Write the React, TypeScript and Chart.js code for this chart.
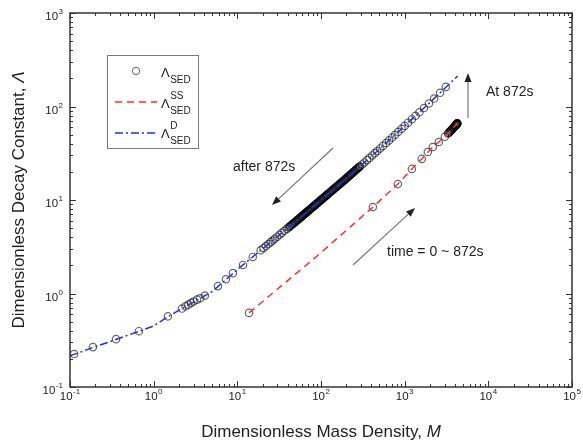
import React, { useEffect, useRef } from 'react';
import { Chart, registerables } from 'chart.js';
Chart.register(...registerables);

// ---------------- data ----------------
const xTickExps = [-1, 0, 1, 2, 3, 4, 5];
const yTickExps = [-1, 0, 1, 2, 3];

// circles, after 872 s (on the D curve)
const afterM = [
  0.112, 0.188, 0.355, 0.667, 1.48, 2.18, 2.4, 2.6, 2.8, 3.0, 3.3, 3.6, 4.1, 5.87, 7.3, 8.85, 11.7, 15.3,
  19, 20.5, 22, 23.5, 25, 26.5, 28, 30, 32, 34, 36.5, 39, 41,
  42, 44, 46, 48, 50, 52, 54, 56, 58, 60, 62, 64, 66, 68, 70, 72, 75, 78, 81, 84, 87, 90, 93, 96,
  100, 104, 108, 112, 116, 120, 125, 130, 135, 140, 146, 152, 158, 164, 170, 177, 184, 191, 198,
  206, 214, 222, 230, 239, 248, 258, 268, 280, 292,
  310, 330, 355, 380, 410, 440, 470, 510, 550, 600, 650, 710, 770, 840, 920, 1000, 1100, 1220, 1350,
  1500, 1700, 1950, 2250, 2650, 3100,
];
const afterL = [
  0.225, 0.267, 0.325, 0.395, 0.57, 0.69, 0.73, 0.76, 0.79, 0.82, 0.86, 0.89, 0.95, 1.2, 1.42, 1.65, 2.02, 2.46,
  2.9, 3.06, 3.22, 3.38, 3.54, 3.69, 3.85, 4.05, 4.25, 4.45, 4.68, 4.91, 5.1,
  5.18, 5.37, 5.55, 5.72, 5.9, 6.08, 6.25, 6.43, 6.6, 6.77, 6.95, 7.12, 7.29, 7.45, 7.62, 7.78, 8.03, 8.27, 8.51, 8.75, 8.99, 9.22, 9.46, 9.69,
  10.0, 10.3, 10.61, 10.9, 11.2, 11.49, 11.86, 12.22, 12.58, 12.93, 13.35, 13.77, 14.18, 14.59, 15.0, 15.47, 15.93, 16.39, 16.85,
  17.4, 17.93, 18.46, 18.98, 19.56, 20.15, 20.78, 21.42, 22.2, 22.91,
  24.0, 25.2, 26.7, 28.2, 29.95, 31.7, 33.4, 35.6, 37.9, 40.7, 43.4, 46.7, 49.9, 53.7, 57.8, 62, 67.1, 73.1, 79.5,
  86.7, 96.2, 107.7, 121.7, 140.1, 162,
];
// extra circles in the densely packed stretch (M ≈ 42 … 290)
const afterDenseM = [
  43, 45, 47, 49, 51, 53, 55, 57, 59, 61, 63, 65, 67, 69, 71, 73.5, 76.5, 79.5, 82.5, 85.5, 88.5, 91.5, 94.5, 98,
  102, 106, 110, 114, 118, 122.5, 127.5, 132.5, 137.5, 143, 149, 155, 161, 167, 173.5, 180.5, 187.5, 194.5,
  202, 210, 218, 226, 234.5, 243.5, 253, 263, 274, 286,
];
const afterDenseL = [
  5.27, 5.46, 5.635, 5.81, 5.99, 6.165, 6.34, 6.515, 6.685, 6.86, 7.035, 7.205, 7.37, 7.535, 7.7, 7.905, 8.15, 8.39, 8.63, 8.87, 9.105, 9.34, 9.575, 9.845,
  10.15, 10.455, 10.755, 11.05, 11.345, 11.675, 12.04, 12.4, 12.755, 13.14, 13.56, 13.975, 14.385, 14.795, 15.235, 15.7, 16.16, 16.62,
  17.125, 17.665, 18.195, 18.72, 19.27, 19.855, 20.465, 21.1, 21.81, 22.555,
];

// circles, time = 0 ~ 872 s (on the SS curve)
const beforeM = [
  13.8, 417, 830, 1220, 1600, 1890, 2170, 2560, 3020,
  3300, 3350, 3450, 3500, 3550, 3600, 3650, 3700, 3750, 3800, 3850, 3900, 3950, 4000, 4030, 4070,
  4100, 4120, 4150, 4180, 4200, 4215, 4230, 4240, 4250, 4260,
];
const beforeL = [
  0.62, 8.4, 14.8, 21.5, 27.5, 32.6, 36.9, 41.7, 47.5,
  51.5, 52.2, 53.5, 54.2, 55, 55.7, 56.5, 57.2, 58, 58.7, 59.5, 60.2, 61, 61.7, 62.3, 62.9,
  63.5, 63.9, 64.3, 64.6, 65, 65.2, 65.5, 65.8, 66, 66.2,
];

// Λ_SED^D curve
const fitDM = [0.1, 0.2, 0.3, 0.5, 0.7, 1, 1.5, 2, 3, 5, 7, 10, 14, 20, 30, 50, 100, 200, 500, 1000, 2000, 4300];
const fitDL = [0.215, 0.27, 0.305, 0.36, 0.4, 0.45, 0.57, 0.66, 0.81, 1.05, 1.36, 1.8, 2.31, 3.0, 4.05, 5.9, 10, 17, 35, 62, 110, 212];

// Λ_SED^SS curve
const fitSSM = [13.8, 30, 84.5, 200, 417, 830, 1220, 1600, 2170, 2560, 3020, 3500, 4260];
const fitSSL = [0.62, 1.11, 2.4, 4.72, 8.4, 14.8, 21.5, 27.5, 36.9, 41.7, 47.5, 54, 66.2];

const toPts = (xs: number[], ys: number[]) => xs.map((x, i) => ({ x, y: ys[i] }));

// ---------------- drawing helpers ----------------
const FONT = '"Liberation Sans", Arial, Helvetica, sans-serif';
const TXT = '#222';
const CIRCLE = 'rgba(0,0,0,0.6)';
const RED = '#ff2b2b';
const BLUE = '#1f2fe6';
const RED_DASH = [7, 5];
const BLUE_DASH = [8, 3, 2, 3];

function drawPow(ctx: CanvasRenderingContext2D, x: number, baseline: number, exp: number, align: 'center' | 'right') {
  ctx.font = `11.5px ${FONT}`;
  const w10 = ctx.measureText('10').width;
  ctx.font = `8px ${FONT}`;
  const es = String(exp);
  const we = ctx.measureText(es).width;
  const total = w10 + we + 0.5;
  const sx = align === 'center' ? x - total / 2 : x - total;
  ctx.textAlign = 'left';
  ctx.textBaseline = 'alphabetic';
  ctx.font = `11.5px ${FONT}`;
  ctx.fillText('10', sx, baseline);
  ctx.font = `8px ${FONT}`;
  ctx.fillText(es, sx + w10 + 0.5, baseline - 6);
}

function drawLambda(ctx: CanvasRenderingContext2D, x: number, baseline: number, sup: string) {
  ctx.textAlign = 'left';
  ctx.textBaseline = 'alphabetic';
  ctx.font = `13px ${FONT}`;
  ctx.fillText('Λ', x, baseline);
  const w = ctx.measureText('Λ').width;
  ctx.font = `10px ${FONT}`;
  ctx.fillText('SED', x + w + 0.5, baseline + 6);
  if (sup) ctx.fillText(sup, x + w + 0.5, baseline - 9);
}

function arrow(ctx: CanvasRenderingContext2D, x1: number, y1: number, x2: number, y2: number) {
  const a = Math.atan2(y2 - y1, x2 - x1);
  const hl = 9, hw = 3.5;
  const bx = x2 - hl * Math.cos(a), by = y2 - hl * Math.sin(a);
  ctx.strokeStyle = '#777';
  ctx.lineWidth = 1.2;
  ctx.setLineDash([]);
  ctx.beginPath();
  ctx.moveTo(x1, y1);
  ctx.lineTo(bx, by);
  ctx.stroke();
  ctx.fillStyle = '#222';
  ctx.beginPath();
  ctx.moveTo(x2, y2);
  ctx.lineTo(bx + hw * Math.sin(a), by - hw * Math.cos(a));
  ctx.lineTo(bx - hw * Math.sin(a), by + hw * Math.cos(a));
  ctx.closePath();
  ctx.fill();
}

const decor = {
  id: 'decor',
  afterDatasetsDraw(chart: any) {
    const ctx: CanvasRenderingContext2D = chart.ctx;
    const xs = chart.scales.x, ys = chart.scales.y;
    const { left, right, top, bottom } = chart.chartArea;
    ctx.save();
    ctx.setLineDash([]);

    // ticks (inward, all four sides)
    ctx.strokeStyle = '#333';
    ctx.lineWidth = 1;
    ctx.beginPath();
    for (let i = 0; i < xTickExps.length; i++) {
      const e = xTickExps[i];
      const ks = i === xTickExps.length - 1 ? [1] : [1, 2, 3, 4, 5, 6, 7, 8, 9];
      for (const k of ks) {
        const px = Math.round(xs.getPixelForValue(k * Math.pow(10, e))) + 0.5;
        const len = k === 1 ? 6 : 3;
        ctx.moveTo(px, bottom); ctx.lineTo(px, bottom - len);
        ctx.moveTo(px, top); ctx.lineTo(px, top + len);
      }
    }
    for (let i = 0; i < yTickExps.length; i++) {
      const e = yTickExps[i];
      const ks = i === yTickExps.length - 1 ? [1] : [1, 2, 3, 4, 5, 6, 7, 8, 9];
      for (const k of ks) {
        const py = Math.round(ys.getPixelForValue(k * Math.pow(10, e))) + 0.5;
        const len = k === 1 ? 6 : 3;
        ctx.moveTo(left, py); ctx.lineTo(left + len, py);
        ctx.moveTo(right, py); ctx.lineTo(right - len, py);
      }
    }
    ctx.stroke();

    // frame
    ctx.strokeStyle = '#333';
    ctx.lineWidth = 1.5;
    ctx.strokeRect(left, top, right - left, bottom - top);

    // tick labels
    ctx.fillStyle = TXT;
    for (const e of xTickExps) drawPow(ctx, xs.getPixelForValue(Math.pow(10, e)), bottom + 13, e, 'center');
    for (const e of yTickExps) drawPow(ctx, left - 7, ys.getPixelForValue(Math.pow(10, e)) + 7, e, 'right');

    // x title
    ctx.textBaseline = 'alphabetic';
    ctx.textAlign = 'left';
    ctx.font = `17px ${FONT}`;
    const xt = 'Dimensionless Mass Density, ';
    const xw1 = ctx.measureText(xt).width;
    ctx.font = `italic 17px ${FONT}`;
    const xw2 = ctx.measureText('M').width;
    const xcx = (left + right) / 2;
    let sx = xcx - (xw1 + xw2) / 2;
    ctx.font = `17px ${FONT}`;
    ctx.fillText(xt, sx, 437);
    ctx.font = `italic 17px ${FONT}`;
    ctx.fillText('M', sx + xw1, 437);

    // y title
    ctx.save();
    ctx.translate(24, (top + bottom) / 2);
    ctx.rotate(-Math.PI / 2);
    ctx.font = `17px ${FONT}`;
    const yt = 'Dimensionless Decay Constant, ';
    const yw1 = ctx.measureText(yt).width;
    ctx.font = `italic 17px ${FONT}`;
    const yw2 = ctx.measureText('Λ').width;
    sx = -(yw1 + yw2) / 2;
    ctx.font = `17px ${FONT}`;
    ctx.fillText(yt, sx, 0);
    ctx.font = `italic 17px ${FONT}`;
    ctx.fillText('Λ', sx + yw1, 0);
    ctx.restore();

    // legend
    ctx.strokeStyle = '#777';
    ctx.lineWidth = 1;
    ctx.strokeRect(107.5, 55.5, 91, 93);
    ctx.strokeStyle = CIRCLE;
    ctx.beginPath();
    ctx.arc(136, 71, 3.7, 0, Math.PI * 2);
    ctx.stroke();
    ctx.lineWidth = 1.5;
    ctx.strokeStyle = RED;
    ctx.setLineDash(RED_DASH);
    ctx.beginPath(); ctx.moveTo(115, 102); ctx.lineTo(157, 102); ctx.stroke();
    ctx.strokeStyle = BLUE;
    ctx.setLineDash(BLUE_DASH);
    ctx.beginPath(); ctx.moveTo(115, 133); ctx.lineTo(157, 133); ctx.stroke();
    ctx.setLineDash([]);
    ctx.fillStyle = TXT;
    drawLambda(ctx, 161, 77, '');
    drawLambda(ctx, 161, 108, 'SS');
    drawLambda(ctx, 161, 138, 'D');

    // annotations
    arrow(ctx, 333, 148, 272, 205);
    arrow(ctx, 353, 265, 415, 208);
    arrow(ctx, 468, 118, 468, 73);
    ctx.fillStyle = TXT;
    ctx.font = `14px ${FONT}`;
    ctx.textAlign = 'left';
    ctx.textBaseline = 'middle';
    ctx.fillText('after 872s', 233, 167);
    ctx.fillText('time = 0 ~ 872s', 387, 252);
    ctx.fillText('At 872s', 486, 92);

    ctx.restore();
  },
};

export default function App() {
  const ref = useRef<HTMLCanvasElement>(null);
  useEffect(() => {
    document.body.style.margin = '0';
    const canvas = ref.current!;
    const circleStyle = {
      pointRadius: 3.7,
      pointBorderColor: CIRCLE,
      pointBackgroundColor: 'rgba(0,0,0,0)',
      pointBorderWidth: 1.2,
      showLine: false,
      order: 2,
    };
    const chart = new Chart(canvas, {
      type: 'scatter',
      data: {
        datasets: [
          {
            label: 'Λ_SED^D',
            data: toPts(fitDM, fitDL),
            showLine: true,
            borderColor: BLUE,
            borderWidth: 1.5,
            borderDash: BLUE_DASH,
            pointRadius: 0,
            fill: false,
            order: 0,
          } as any,
          {
            label: 'Λ_SED^SS',
            data: toPts(fitSSM, fitSSL),
            showLine: true,
            borderColor: RED,
            borderWidth: 1.5,
            borderDash: RED_DASH,
            pointRadius: 0,
            fill: false,
            order: 1,
          } as any,
          {
            label: 'Λ_SED (after 872s)',
            data: [...toPts(afterM, afterL), ...toPts(afterDenseM, afterDenseL)],
            ...circleStyle,
          } as any,
          { label: 'Λ_SED (0 ~ 872s)', data: toPts(beforeM, beforeL), ...circleStyle } as any,
        ],
      },
      options: {
        responsive: false,
        animation: false,
        layout: { padding: { left: 70, top: 13, right: 583 - 572, bottom: 447 - 387 } },
        scales: {
          x: { type: 'logarithmic', min: 0.1, max: 100000, display: false },
          y: { type: 'logarithmic', min: 0.1, max: 1000, display: false },
        },
        plugins: { legend: { display: false }, tooltip: { enabled: false } },
      },
      plugins: [decor],
    });
    return () => chart.destroy();
  }, []);
  return (
    <div style={{ width: 583, height: 447, background: '#fff' }}>
      <canvas ref={ref} width={583} height={447} style={{ display: 'block' }} />
    </div>
  );
}
